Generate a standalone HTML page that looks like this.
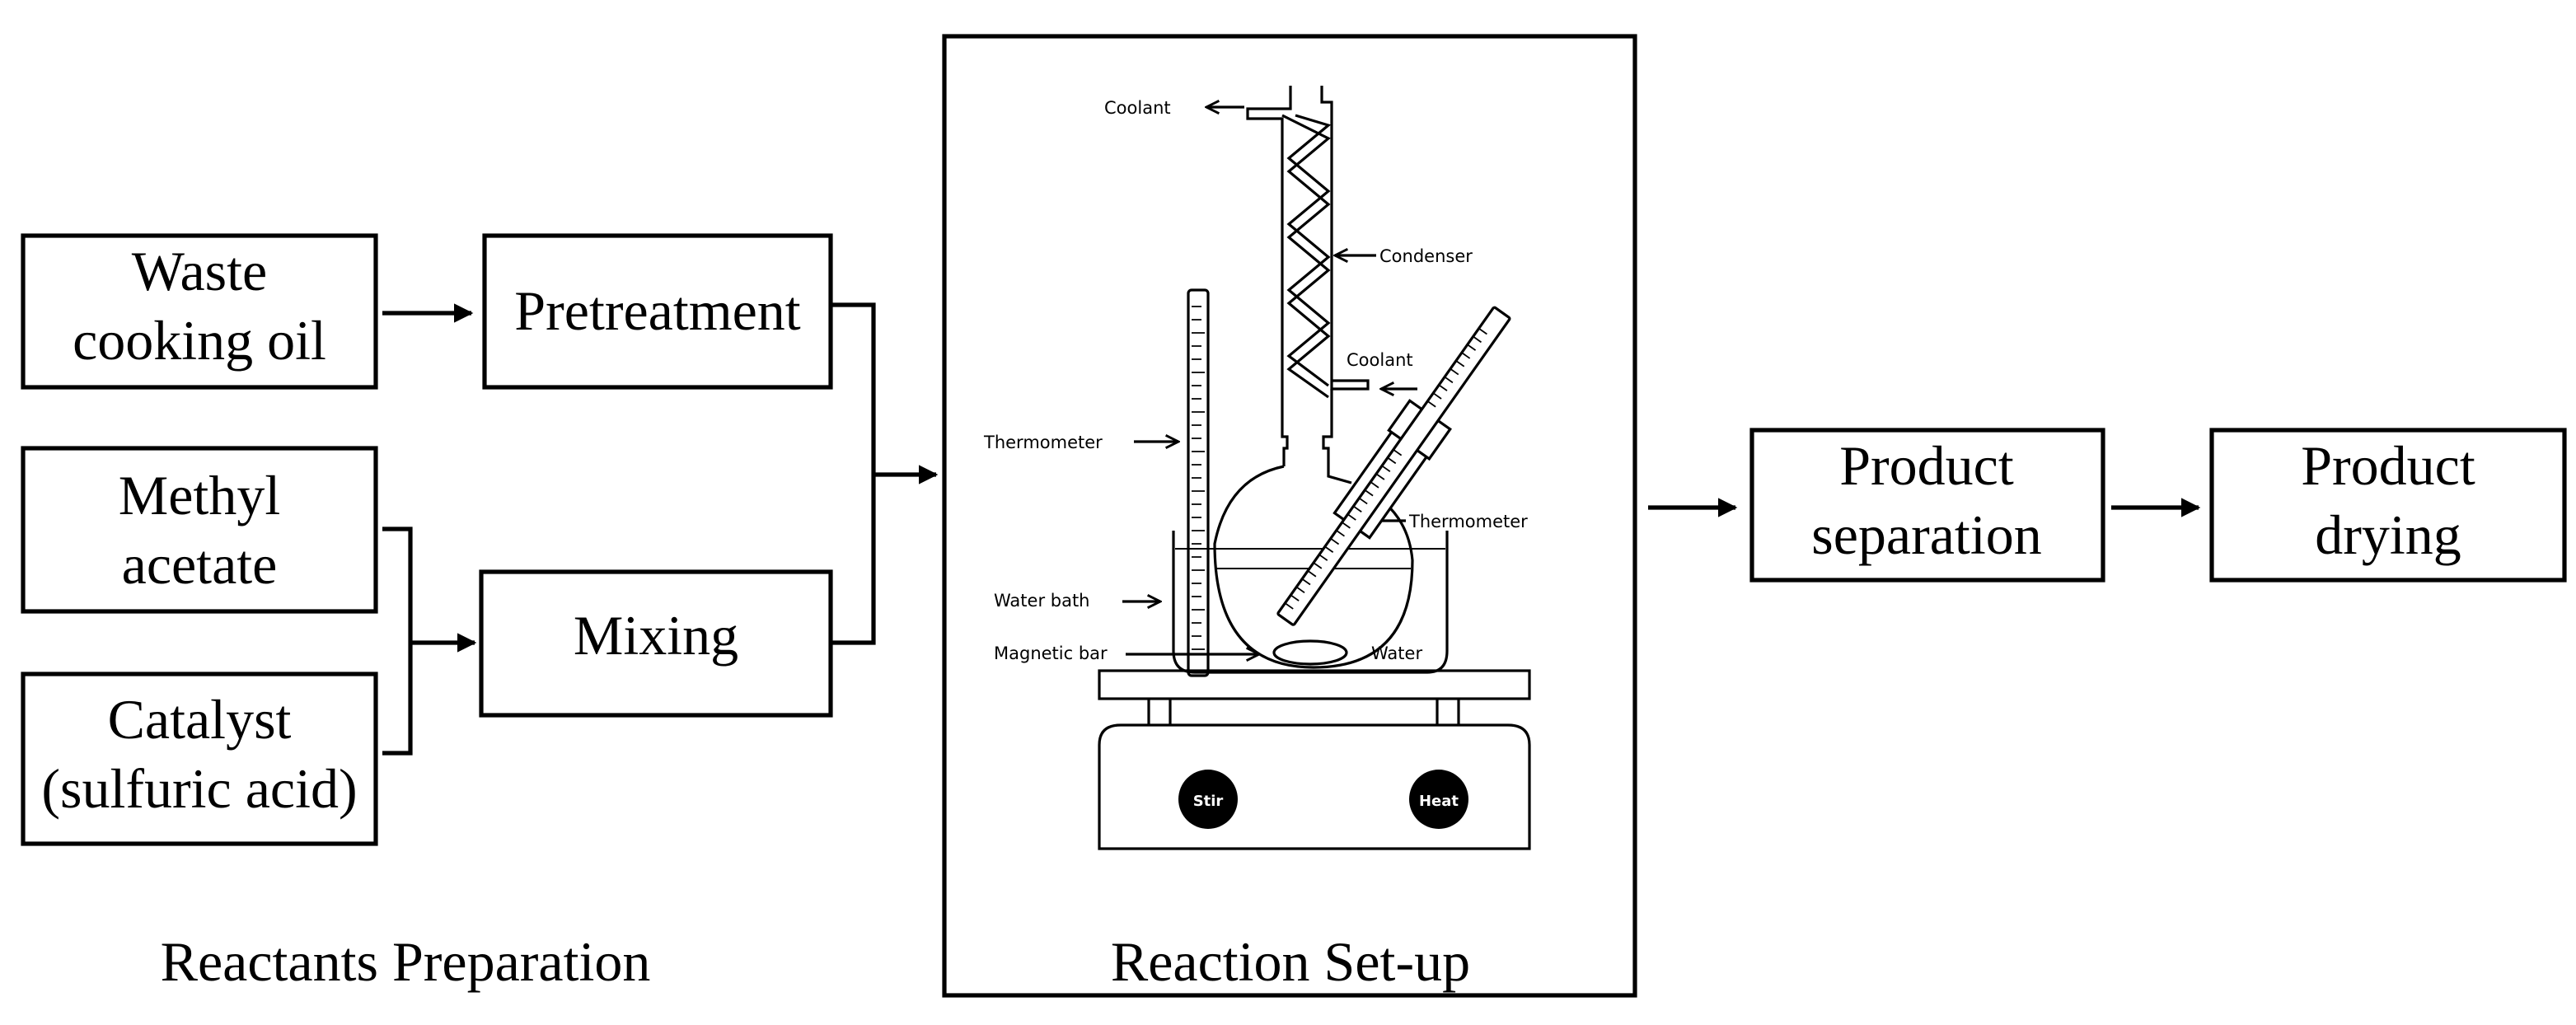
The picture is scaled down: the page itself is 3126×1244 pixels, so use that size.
<!DOCTYPE html>
<html><head><style>html,body{margin:0;padding:0;background:#fff}svg{display:block}</style></head>
<body>
<svg width="3126" height="1244" viewBox="0 0 1563 622" xmlns="http://www.w3.org/2000/svg">
<defs>
<marker id="a" viewBox="0 0 10 10" refX="9" refY="5" markerWidth="4.5" markerHeight="4.5" orient="auto"><path d="M0,0 L10,5 L0,10 z" fill="#000"/></marker>
<marker id="s" viewBox="0 0 10 10" refX="9" refY="5" markerWidth="6" markerHeight="6" orient="auto"><path d="M1,1 L9,5 L1,9" fill="none" stroke="#000" stroke-width="1.5"/></marker>
</defs>
<g fill="none" stroke="#000" stroke-width="2.6">
<rect x="14" y="143" width="214" height="92"/>
<rect x="294" y="143" width="210" height="92"/>
<rect x="14" y="272" width="214" height="99"/>
<rect x="14" y="409" width="214" height="103"/>
<rect x="292" y="347" width="212" height="87"/>
<rect x="573" y="22" width="419" height="582"/>
<rect x="1063" y="261" width="213" height="91"/>
<rect x="1342" y="261" width="214" height="91"/>
<path d="M232,190 H286" marker-end="url(#a)"/>
<path d="M232,321 H249 V457 H232"/>
<path d="M249,390 H288" marker-end="url(#a)"/>
<path d="M504,185 H530 V390 H504"/>
<path d="M530,288 H568" marker-end="url(#a)"/>
<path d="M1000,308 H1053" marker-end="url(#a)"/>
<path d="M1281,308 H1334" marker-end="url(#a)"/>
</g>
<g font-family="Liberation Serif, serif" font-size="34" text-anchor="middle" fill="#000">
<text x="121" y="176">Waste</text>
<text x="121" y="218">cooking oil</text>
<text x="399" y="200">Pretreatment</text>
<text x="121" y="312">Methyl</text>
<text x="121" y="354">acetate</text>
<text x="121" y="448">Catalyst</text>
<text x="121" y="490">(sulfuric acid)</text>
<text x="398" y="397">Mixing</text>
<text x="1169" y="294">Product</text>
<text x="1169" y="336">separation</text>
<text x="1449" y="294">Product</text>
<text x="1449" y="336">drying</text>
<text x="246" y="595">Reactants Preparation</text>
<text x="783" y="595">Reaction Set-up</text>
</g>
<!-- apparatus -->
<g fill="none" stroke="#000" stroke-width="1.6">
<path d="M783,52 V66 H757 V72 H778 V265 H781 V272 H779 V283"/>
<path d="M802,52 V62 H808 V236 H830 V231 H808"/>
<path d="M808,236 V265 H803 V272 H806 V289 L820,293"/>
<path d="M779,283 Q745,290 737,330 Q737,405 797,405 Q857,405 857,340 Q855,318 840,305"/>
<polyline points="778,70 806,84 782,104 806,124 782,144 806,164 782,184 806,204 782,224 806,241"/>
<polyline points="786,70 806,76 782,96 806,116 782,136 806,156 782,176 806,196 782,216 806,234"/>
<path d="M712,322 V395 Q712,408 725,408 H866 Q878,408 878,395 V322"/>
<path d="M713,333 H877" stroke-width="1"/>
<path d="M738,345 H856" stroke-width="1"/>
<ellipse cx="795" cy="396" rx="22" ry="7"/>
<rect x="721" y="176" width="12" height="234" rx="2"/>
<rect x="667" y="407" width="261" height="17"/>
<path d="M697,424 V440 M710,424 V440 M872,424 V440 M885,424 V440"/>
<path d="M667,515 V452 Q667,440 680,440 H915 Q928,440 928,452 V515 Z"/>
<path d="M755,65 H732" marker-end="url(#s)"/>
<path d="M835,155 H810" marker-end="url(#s)"/>
<path d="M860,236 H838" marker-end="url(#s)"/>
<path d="M688,268 H715" marker-end="url(#s)"/>
<path d="M681,365 H704" marker-end="url(#s)"/>
<path d="M683,397 H764" marker-end="url(#s)"/>
<path d="M853,316 H825" marker-end="url(#s)"/>
</g>
<g stroke="#000" stroke-width="0.9">
<path d="M723,186 H729 M723,194 H729 M723,202 H731 M723,210 H729 M723,218 H729 M723,226 H731 M723,234 H729 M723,242 H729 M723,250 H731 M723,258 H729 M723,266 H729 M723,274 H731 M723,282 H729 M723,290 H729 M723,298 H731 M723,306 H729 M723,314 H729 M723,322 H731 M723,330 H729 M723,338 H729 M723,346 H731 M723,354 H729 M723,362 H729 M723,370 H731 M723,378 H729 M723,386 H729 M723,394 H731"/>
</g>
<g transform="translate(780,376) rotate(-54.8)" fill="#fff" stroke="#000" stroke-width="1.6">
<rect x="70" y="-13" width="62" height="26"/>
<rect x="130" y="-15" width="22" height="30"/>
<rect x="0" y="-6" width="228" height="12" rx="1"/>
<path stroke-width="0.9" d="M8,-6 V0 M14,-6 V0 M20,-6 V0 M26,-6 V0 M32,-6 V0 M38,-6 V0 M44,-6 V0 M50,-6 V0 M56,-6 V0 M62,-6 V0 M68,-6 V0 M74,-6 V0 M80,-6 V0 M86,-6 V0 M92,-6 V0 M98,-6 V0 M104,-6 V0 M110,-6 V0 M116,-6 V0 M122,-6 V0 M158,-6 V0 M164,-6 V0 M170,-6 V0 M176,-6 V0 M182,-6 V0 M188,-6 V0 M194,-6 V0 M200,-6 V0 M206,-6 V0 M212,-6 V0"/>
</g>
<circle cx="733" cy="485" r="18" fill="#000"/>
<circle cx="873" cy="485" r="18" fill="#000"/>
<g font-family="DejaVu Sans, sans-serif" font-size="9" font-weight="bold" fill="#fff" text-anchor="middle">
<text x="733" y="489">Stir</text><text x="873" y="489">Heat</text>
</g>
<g font-family="DejaVu Sans, sans-serif" font-size="10.5" fill="#000">
<text x="670" y="69">Coolant</text>
<text x="837" y="159">Condenser</text>
<text x="817" y="222">Coolant</text>
<text x="597" y="272">Thermometer</text>
<text x="855" y="320">Thermometer</text>
<text x="603" y="368">Water bath</text>
<text x="603" y="400">Magnetic bar</text>
<text x="832" y="400">Water</text>
</g>
</svg>
</body></html>
